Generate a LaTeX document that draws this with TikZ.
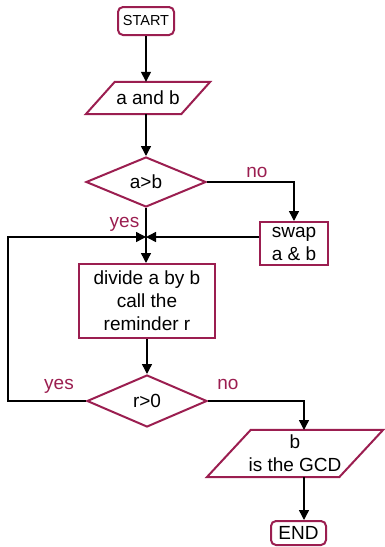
\documentclass[tikz,border=0pt]{standalone}
\usepackage{fontspec}
\setmainfont{Liberation Sans}
\usetikzlibrary{shapes.geometric,arrows.meta,calc}
\definecolor{fc}{RGB}{155,30,80}
\begin{document}
\begin{tikzpicture}[x=1pt,y=-1pt,
  every node/.style={font=\fontsize{19}{23}\selectfont, align=center, inner sep=0pt},
  shapebox/.style={draw=fc, line width=2pt, rectangle},
  termbox/.style={draw=fc, line width=2pt, rounded corners=5pt, rectangle},
  decision/.style={draw=fc, line width=2pt, diamond, aspect=2.4, minimum width=120pt, minimum height=50pt},
  iobox/.style={rectangle},
  ioshape/.style={draw=fc, line width=2pt, line join=miter},
  lbl/.style={text=fc, anchor=base},
  conn/.style={draw=black, line width=1.4pt, -{Triangle[width=10pt,length=10pt]}}]
\useasboundingbox (0,0) rectangle (384,547);

\node[termbox, minimum width=56pt, minimum height=28pt, font=\fontsize{14.5}{17}\selectfont] (start) at (146,21) {START};

\node[iobox, minimum width=95pt, minimum height=32pt] (in) at (148,98) {a and b};
\draw[ioshape] ([xshift=14.5pt]in.north west) -- ([xshift=14.5pt]in.north east) -- ([xshift=-14.5pt]in.south east) -- ([xshift=-14.5pt]in.south west) -- cycle;

\node[decision] (c1) at (146,182) {a>b};
\node[shapebox, minimum width=68pt, minimum height=43pt] (swap) at (294,243.5) {swap\\a \& b};
\coordinate (j) at (146,237);
\node[shapebox, minimum width=136pt, minimum height=74pt] (div) at (147,301) {divide a by b\\call the\\reminder r};
\node[decision, minimum width=120pt, minimum height=52pt] (c2) at (147,401) {r>0};

\node[iobox, minimum width=132pt, minimum height=47pt] (out) at (295,453.5) {b\\is the GCD};
\draw[ioshape] ([xshift=22pt]out.north west) -- ([xshift=22pt]out.north east) -- ([xshift=-22pt]out.south east) -- ([xshift=-22pt]out.south west) -- cycle;

\node[termbox, minimum width=55pt, minimum height=24pt] (end) at (298.5,533) {END};

\coordinate (lc) at (8,237);
\coordinate (gin) at (304,430);
\coordinate (gout) at (304,477);

\draw[conn] (start.south) -- (start.south |- in.north);
\draw[conn] (c1.north |- in.south) -- (c1.north);
\draw[conn] (c1.east) -| (swap.north);
\draw[conn] (c1.south) -- (c1.south |- div.north);
\draw[conn] (swap.west |- j) -- (j);
\draw[conn] (c2.west) -| (lc) -- (j);
\draw[conn] (div.south) -- (c2.north);
\draw[conn] (c2.east) -| (gin);
\draw[conn] (gout) -- (gout |- end.north);

\node[lbl] (no1) at (257,177) {no};
\node[lbl] (yes1) at (124.5,227) {yes};
\node[lbl] (yes2) at (59,389) {yes};
\node[lbl] (no2) at (228,389) {no};
\end{tikzpicture}
\end{document}
